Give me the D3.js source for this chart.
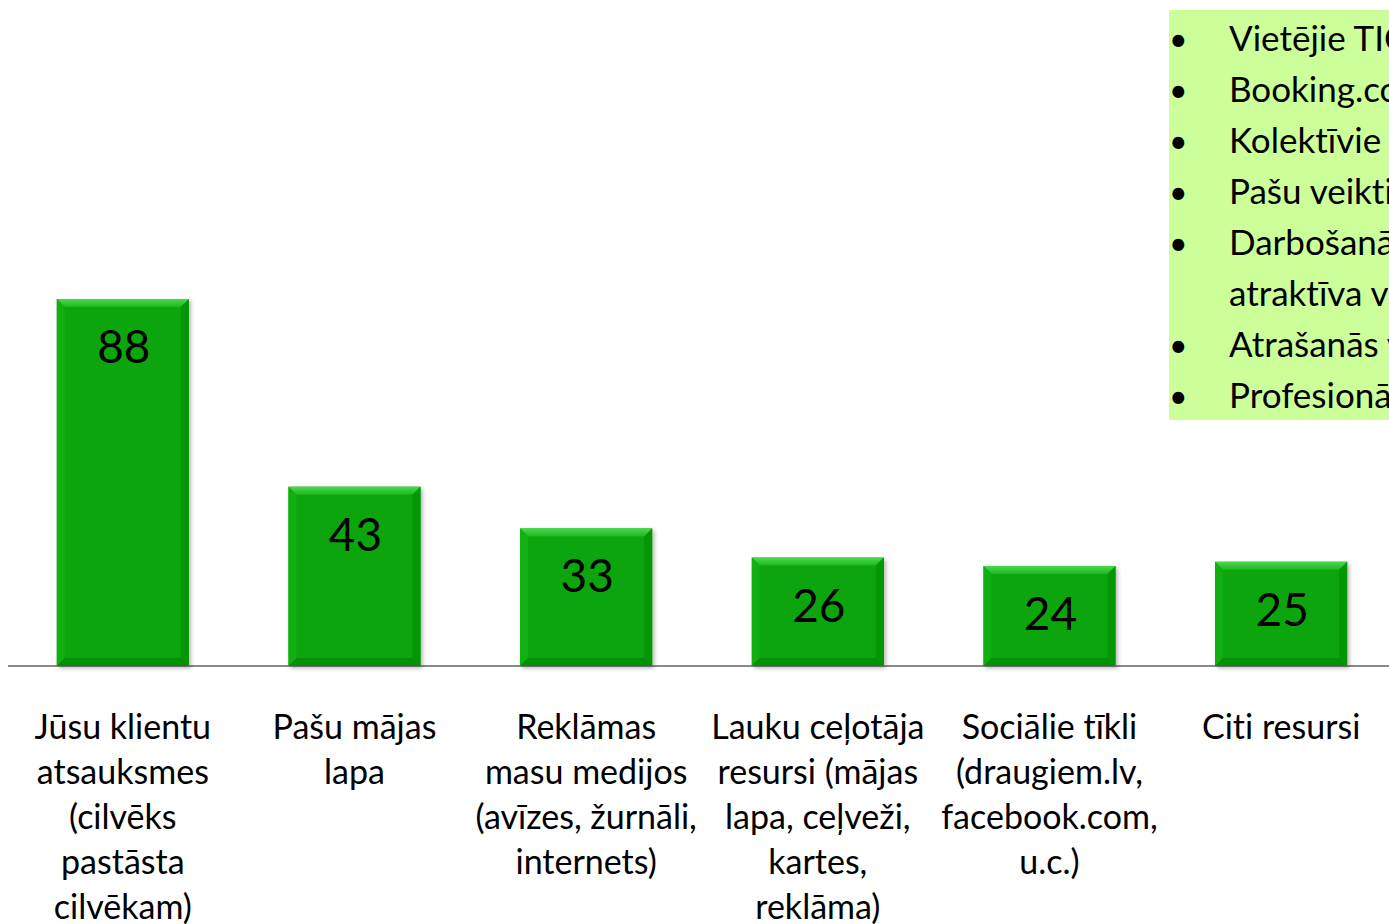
<!DOCTYPE html>
<html>
<head>
<meta charset="utf-8">
<script src="https://cdn.jsdelivr.net/npm/d3@7"></script>
<style>
  html, body { margin: 0; padding: 0; background: #fff; overflow: hidden; }
  svg { display: block; }
</style>
</head>
<body>
<div id="chart"></div>
<script>
// Survey: where guests learn about the place (counts)
const categories = ["klienti", "maja", "reklama", "celotajs", "socialie", "citi"];
const categoryLines = [
  ["Jūsu klientu", "atsauksmes", "(cilvēks", "pastāsta", "cilvēkam)"],
  ["Pašu mājas", "lapa"],
  ["Reklāmas", "masu medijos", "(avīzes, žurnāli,", "internets)"],
  ["Lauku ceļotāja", "resursi (mājas", "lapa, ceļveži,", "kartes,", "reklāma)"],
  ["Sociālie tīkli", "(draugiem.lv,", "facebook.com,", "u.c.)"],
  ["Citi resursi"]
];
const values = [88, 43, 33, 26, 24, 25];

// Note box (clipped by the right edge in the original)
const noteLines = [
  { bullet: true,  text: "Vietējie TIC" },
  { bullet: true,  text: "Booking.com" },
  { bullet: true,  text: "Kolektīvie ceļveži" },
  { bullet: true,  text: "Pašu veiktie pasākumi" },
  { bullet: true,  text: "Darbošanās kopā ar" },
  { bullet: false, text: "atraktīva vide" },
  { bullet: true,  text: "Atrašanās vieta" },
  { bullet: true,  text: "Profesionālās asociācijas" }
];

const W = 1389, H = 924;
const FONT = "Lato, 'Open Sans', sans-serif";
const BASE_Y = 666;

// set font, then switch off Lato's "ti" ligature (the font shorthand resets it)
const font = (sel, size) => sel
  .style("font", `${size}px ${FONT}`)
  .style("font-variant-ligatures", "none")
  .style("font-feature-settings", "'liga' 0, 'clig' 0, 'dlig' 0, 'calt' 0");

const svg = d3.select("#chart").append("svg")
  .attr("width", W).attr("height", H)
  .attr("viewBox", `0 0 ${W} ${H}`);

const defs = svg.append("defs");
const shadow = defs.append("filter").attr("id", "shadow")
  .attr("x", "-10%").attr("y", "-10%").attr("width", "130%").attr("height", "130%");
shadow.append("feDropShadow").attr("dx", 2).attr("dy", 2).attr("stdDeviation", 2)
  .attr("flood-color", "#000").attr("flood-opacity", 0.3);

const topGrad = defs.append("linearGradient").attr("id", "bevelTop")
  .attr("x1", 0).attr("y1", 0).attr("x2", 0).attr("y2", 1);
topGrad.append("stop").attr("offset", 0).attr("stop-color", "#4ed84e");
topGrad.append("stop").attr("offset", 1).attr("stop-color", "#1cb91c");

const x = d3.scaleBand().domain(categories)
  .range([7, 1397]).paddingInner(0.43).paddingOuter(0.215);
const y = d3.scaleLinear().domain([0, 100]).range([BASE_Y, BASE_Y - 417]);

// Axis line along the baseline
svg.append("g")
  .attr("transform", `translate(0,${BASE_Y})`)
  .call(d3.axisBottom(x).tickSize(0).tickSizeOuter(0).tickFormat(""))
  .call((g) => g.select(".domain").attr("stroke", "#8a8a8a").attr("stroke-width", 2)
    .attr("d", `M8,0H${W}`));

const data = categories.map((c, i) => ({ id: c, v: values[i], lines: categoryLines[i] }));
const B = 8; // bevel width

const bars = svg.append("g").selectAll("g").data(data).join("g")
  .attr("transform", (d) => `translate(${x(d.id)},${y(d.v)})`);

bars.append("rect")
  .attr("width", x.bandwidth())
  .attr("height", (d) => BASE_Y - y(d.v))
  .attr("fill", "#07a507")
  .attr("filter", "url(#shadow)");

// bevel edges
bars.append("polygon")
  .attr("points", () => {
    const w = x.bandwidth();
    return `0,0 ${w},0 ${w - B},${B} ${B},${B}`;
  })
  .attr("fill", "url(#bevelTop)");
bars.append("polygon")
  .attr("points", (d) => {
    const h = BASE_Y - y(d.v);
    return `0,0 ${B},${B} ${B},${h - B} 0,${h}`;
  })
  .attr("fill", "#10b010");
bars.append("polygon")
  .attr("points", (d) => {
    const w = x.bandwidth(), h = BASE_Y - y(d.v);
    return `${w},0 ${w},${h} ${w - B},${h - B} ${w - B},${B}`;
  })
  .attr("fill", "#049604");
bars.append("polygon")
  .attr("points", (d) => {
    const w = x.bandwidth(), h = BASE_Y - y(d.v);
    return `0,${h} ${B},${h - B} ${w - B},${h - B} ${w},${h}`;
  })
  .attr("fill", "#049004");

// value labels
bars.append("text")
  .attr("x", x.bandwidth() / 2 + 1)
  .attr("y", 64)
  .attr("text-anchor", "middle")
  .attr("fill", "#000")
  .call(font, 46)
  .text((d) => d.v);

// category labels
const lab = svg.append("g").selectAll("text").data(data).join("text")
  .attr("text-anchor", "middle")
  .attr("fill", "#000")
  .call(font, 34);
lab.selectAll("tspan").data((d) => d.lines.map((t) => ({ t, cx: x(d.id) + x.bandwidth() / 2 })))
  .join("tspan")
  .attr("x", (d) => d.cx)
  .attr("y", (d, i) => 739 + i * 45)
  .text((d) => d.t);

// note box
const note = svg.append("g");
note.append("rect")
  .attr("x", 1169).attr("y", 10).attr("width", 260).attr("height", 410)
  .attr("fill", "#ccff99");
const nl = note.selectAll("g").data(noteLines).join("g")
  .attr("transform", (d, i) => `translate(0,${51 + i * 51})`);
nl.filter((d) => d.bullet).append("text")
  .attr("x", 1169).attr("y", 0)
  .attr("fill", "#000")
  .call(font, 32)
  .text("•");
nl.append("text")
  .attr("x", 1229).attr("y", 0)
  .attr("fill", "#000")
  .call(font, 35)
  .text((d) => d.text);
</script>
</body>
</html>
